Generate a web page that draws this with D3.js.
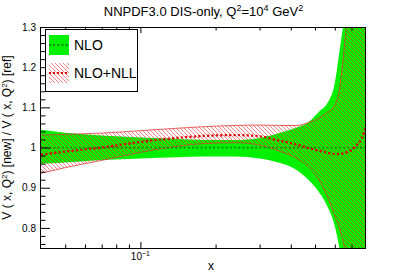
<!DOCTYPE html>
<html lang="en">
<head>
<meta charset="UTF-8">
<title>NNPDF3.0 DIS-only ratio</title>
<script src="https://cdn.jsdelivr.net/npm/d3@7"></script>
<style>
  body { margin: 0; background: #fff; }
  text { font-family: "Liberation Sans", Arial, Helvetica, sans-serif; fill: #000; }
</style>
</head>
<body>
<script>
// x grid shared by all curves
var xs     = [0.04, 0.05, 0.07, 0.1, 0.14, 0.18, 0.24, 0.3, 0.36, 0.42, 0.47, 0.52, 0.56, 0.6, 0.63, 0.66, 0.7, 0.74, 0.77, 0.8];
// NLO band (green) and its central value
var nloHi  = [1.044, 1.037, 1.030, 1.025, 1.021, 1.019, 1.019, 1.024, 1.036, 1.049, 1.063, 1.090, 1.110, 1.160, 1.250, 1.340, 1.500, 1.700, 1.900, 2.100];
var nloLo  = [0.960, 0.963, 0.969, 0.973, 0.976, 0.978, 0.978, 0.973, 0.962, 0.945, 0.920, 0.888, 0.854, 0.805, 0.740, 0.650, 0.500, 0.300, 0.100, 0.000];
var nloMid = [1, 1, 1, 1, 1, 1, 1, 1, 1, 1, 1, 1, 1, 1, 1, 1, 1, 1, 1, 1];
// NLO+NLL band (red hatched) and its central value
var nllHi  = [1.031, 1.033, 1.036, 1.042, 1.048, 1.052, 1.055, 1.056, 1.055, 1.055, 1.062, 1.074, 1.088, 1.105, 1.155, 1.270, 1.420, 1.600, 1.780, 2.000];
var nllLo  = [0.936, 0.950, 0.968, 0.988, 1.003, 1.010, 1.012, 1.006, 0.991, 0.974, 0.952, 0.918, 0.878, 0.830, 0.795, 0.740, 0.620, 0.450, 0.300, 0.100];
var nllMid = [0.982, 0.990, 1.000, 1.014, 1.024, 1.029, 1.031, 1.028, 1.017, 1.008, 0.999, 0.992, 0.987, 0.984, 0.984, 0.987, 0.994, 1.008, 1.023, 1.055];

// axis ticks
var yMajor = [0.8, 0.9, 1.0, 1.1, 1.2, 1.3];
var yLabels = ["0.8", "0.9", "1", "1.1", "1.2", "1.3"];
var yMinor = [0.76, 0.78, 0.82, 0.84, 0.86, 0.88, 0.92, 0.94, 0.96, 0.98, 1.02, 1.04, 1.06, 1.08, 1.12, 1.14, 1.16, 1.18, 1.22, 1.24, 1.26, 1.28];
var xMajor = [0.1];
var xMinor = [0.05, 0.06, 0.07, 0.08, 0.09, 0.2, 0.3, 0.4, 0.5, 0.6, 0.7];

var w = 407, h = 276;
var L = 41, R = 366, T = 27, B = 248;

var svg = d3.select("body").append("svg")
    .attr("width", w)
    .attr("height", h);

var x = d3.scaleLog().domain([0.04, 0.8]).range([L, R]);
var y = d3.scaleLinear().domain([0.75, 1.3]).range([B, T]);

var defs = svg.append("defs");
defs.append("clipPath").attr("id", "plotclip")
    .append("rect").attr("x", L).attr("y", T).attr("width", R - L).attr("height", B - T);

// thin red "\\\" hatching
defs.append("pattern")
    .attr("id", "hatch")
    .attr("patternUnits", "userSpaceOnUse")
    .attr("width", 4).attr("height", 4)
  .append("path")
    .attr("d", "M-1,-1 L5,5 M-1,3 L1,5 M3,-1 L5,1")
    .attr("stroke", "#ee2020")
    .attr("stroke-width", 0.55);

var idx = d3.range(xs.length);

function band(lo, hi) {
    return d3.area()
        .x(function(i) { return x(xs[i]); })
        .y0(function(i) { return y(lo[i]); })
        .y1(function(i) { return y(hi[i]); })
        .curve(d3.curveMonotoneX)(idx);
}
function curve(v) {
    return d3.line()
        .x(function(i) { return x(xs[i]); })
        .y(function(i) { return y(v[i]); })
        .curve(d3.curveMonotoneX)(idx);
}

var plot = svg.append("g").attr("clip-path", "url(#plotclip)");

// NLO band
plot.append("path").attr("d", band(nloLo, nloHi)).attr("fill", "#00f000");
// NLO+NLL hatched band with its edges
plot.append("path").attr("d", band(nllLo, nllHi)).attr("fill", "url(#hatch)");
plot.append("path").attr("d", curve(nllHi)).attr("fill", "none").attr("stroke", "#e03a3a").attr("stroke-width", 0.8);
plot.append("path").attr("d", curve(nllLo)).attr("fill", "none").attr("stroke", "#e03a3a").attr("stroke-width", 0.8);
// central values
plot.append("path").attr("d", curve(nloMid)).attr("fill", "none")
    .attr("stroke", "#1a7d1a").attr("stroke-width", 1.8).attr("stroke-dasharray", "1.8,2.4");
plot.append("path").attr("d", curve(nllMid)).attr("fill", "none")
    .attr("stroke", "#e00000").attr("stroke-width", 2.3).attr("stroke-dasharray", "2.2,2.2");

// axes (ticks point inwards, ROOT style)
function clean(g) { g.select(".domain").remove(); g.selectAll("line").attr("stroke", "#000"); }

svg.append("g").attr("transform", "translate(" + L + ",0)")
    .call(d3.axisLeft(y).tickValues(yMajor).tickSize(-9).tickPadding(5)
        .tickFormat(function(d, i) { return yLabels[i]; }))
    .call(clean)
    .selectAll("text").attr("font-size", 10).attr("font-family", null);
svg.append("g").attr("transform", "translate(" + L + ",0)")
    .call(d3.axisLeft(y).tickValues(yMinor).tickSize(-4.5).tickFormat(""))
    .call(clean);

svg.append("g").attr("transform", "translate(0," + B + ")")
    .call(d3.axisBottom(x).tickValues(xMajor).tickSize(-6).tickFormat(""))
    .call(clean);
svg.append("g").attr("transform", "translate(0," + B + ")")
    .call(d3.axisBottom(x).tickValues(xMinor).tickSize(-3.5).tickFormat(""))
    .call(clean);
svg.append("g").attr("transform", "translate(0," + T + ")")
    .call(d3.axisTop(x).tickValues(xMajor).tickSize(-6).tickFormat(""))
    .call(clean);
svg.append("g").attr("transform", "translate(0," + T + ")")
    .call(d3.axisTop(x).tickValues(xMinor).tickSize(-3.5).tickFormat(""))
    .call(clean);

// frame
svg.append("rect")
    .attr("x", L - 0.5).attr("y", T + 0.5)
    .attr("width", R - L).attr("height", B - T)
    .attr("fill", "none").attr("stroke", "#000").attr("stroke-width", 1);

// x tick label 10^-1
var xl = svg.append("text").attr("x", x(0.1)).attr("y", 260).attr("text-anchor", "middle").attr("font-size", 10);
xl.append("tspan").text("10");
xl.append("tspan").attr("dy", -4).attr("font-size", 7).text("\u22121");

// axis titles
svg.append("text").attr("x", 211).attr("y", 270).attr("text-anchor", "middle").attr("font-size", 12).text("x");

var yl = svg.append("text")
    .attr("transform", "translate(11,137.5) rotate(-90)")
    .attr("text-anchor", "middle").attr("font-size", 12);
yl.append("tspan").text("V ( x, Q");
yl.append("tspan").attr("dy", -4).attr("font-size", 8).text("2");
yl.append("tspan").attr("dy", 4).text(") [new] / V ( x, Q");
yl.append("tspan").attr("dy", -4).attr("font-size", 8).text("2");
yl.append("tspan").attr("dy", 4).text(") [ref]");

// title
var tt = svg.append("text").attr("x", (L + R) / 2).attr("y", 16).attr("text-anchor", "middle").attr("font-size", 13);
tt.append("tspan").text("NNPDF3.0 DIS-only, Q");
tt.append("tspan").attr("dy", -5).attr("font-size", 9).text("2");
tt.append("tspan").attr("dy", 5).text("=10");
tt.append("tspan").attr("dy", -5).attr("font-size", 9).text("4");
tt.append("tspan").attr("dy", 5).text(" GeV");
tt.append("tspan").attr("dy", -5).attr("font-size", 9).text("2");

// legend
var leg = svg.append("g");
leg.append("rect").attr("x", 45.5).attr("y", 29.5).attr("width", 92).attr("height", 62)
    .attr("fill", "#fff").attr("stroke", "#000").attr("stroke-width", 1);
leg.append("rect").attr("x", 49).attr("y", 35).attr("width", 20).attr("height", 20).attr("fill", "#00f000");
leg.append("line").attr("x1", 49).attr("x2", 69).attr("y1", 45).attr("y2", 45)
    .attr("stroke", "#1a7d1a").attr("stroke-width", 1.8).attr("stroke-dasharray", "1.8,2.4");
leg.append("text").attr("x", 74).attr("y", 50).attr("font-size", 14).text("NLO");
leg.append("rect").attr("x", 49).attr("y", 63).attr("width", 20).attr("height", 20).attr("fill", "url(#hatch)");
leg.append("line").attr("x1", 49).attr("x2", 69).attr("y1", 73).attr("y2", 73)
    .attr("stroke", "#e00000").attr("stroke-width", 2).attr("stroke-dasharray", "2,2");
leg.append("text").attr("x", 74).attr("y", 78).attr("font-size", 14).text("NLO+NLL");
</script>
</body>
</html>
